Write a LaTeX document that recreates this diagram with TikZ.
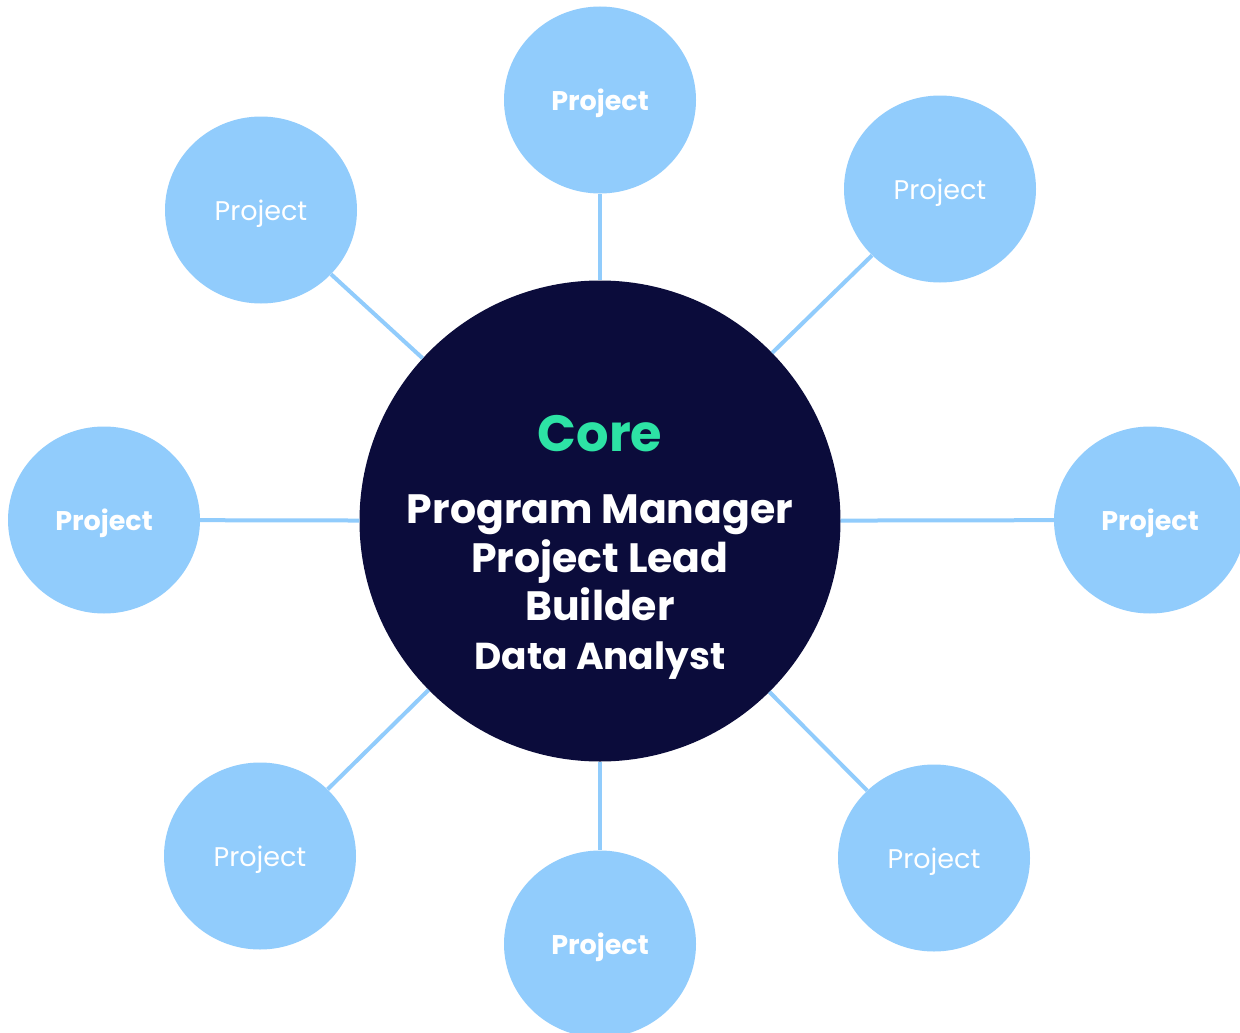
\documentclass[tikz,border=0pt]{standalone}
\usepackage{fontspec}
\setmainfont{Poppins}
\usetikzlibrary{shapes.geometric}
\definecolor{navy}{HTML}{0B0C3B}
\definecolor{skyblue}{HTML}{91CCFC}
\definecolor{mint}{HTML}{2DE3A5}
\tikzset{
  core/.style={circle,fill=navy,minimum size=481pt,inner sep=0pt,text=white,align=center},
  proj/.style={ellipse,fill=skyblue,minimum width=192pt,minimum height=187pt,inner sep=0pt,text depth=0pt,text=white,font=\fontsize{27}{30}\selectfont},
  projb/.style={proj,font=\fontsize{27}{30}\selectfont\bfseries},
  spoke/.style={draw=skyblue,line width=4pt}
}
\begin{document}
\begin{tikzpicture}[x=1pt,y=-1pt]
        \useasboundingbox (0,0) rectangle (1240,1033);
        \fill[white] (0,0) rectangle (1240,1033);

        \node[core] (C) at (600,521) {};
        \node[font=\fontsize{51}{54}\selectfont\bfseries,text=mint] (title) at (600,434) {Core};
        \node[font=\fontsize{41}{48.5}\selectfont\bfseries,text=white,align=center]
          (roles) at (600,587) {Program Manager\\Project Lead\\Builder\\{\fontsize{37.5}{48.5}\selectfont Data Analyst}};

        \node[projb] (N) at (600,100) {Project};
        \node[proj] (NE) at (940,189) {Project};
        \node[projb] (E) at (1150,520) {Project};
        \node[proj] (SE) at (934,858) {Project};
        \node[projb] (S) at (600,944) {Project};
        \node[proj] (SW) at (260,856) {Project};
        \node[projb] (W) at (104,520) {Project};
        \node[proj] (NW) at (261,210) {Project};

        \foreach \p in {N,NE,E,SE,S,SW,W,NW}
          \draw[spoke] (C) -- (\p);
      \end{tikzpicture}
\end{document}
